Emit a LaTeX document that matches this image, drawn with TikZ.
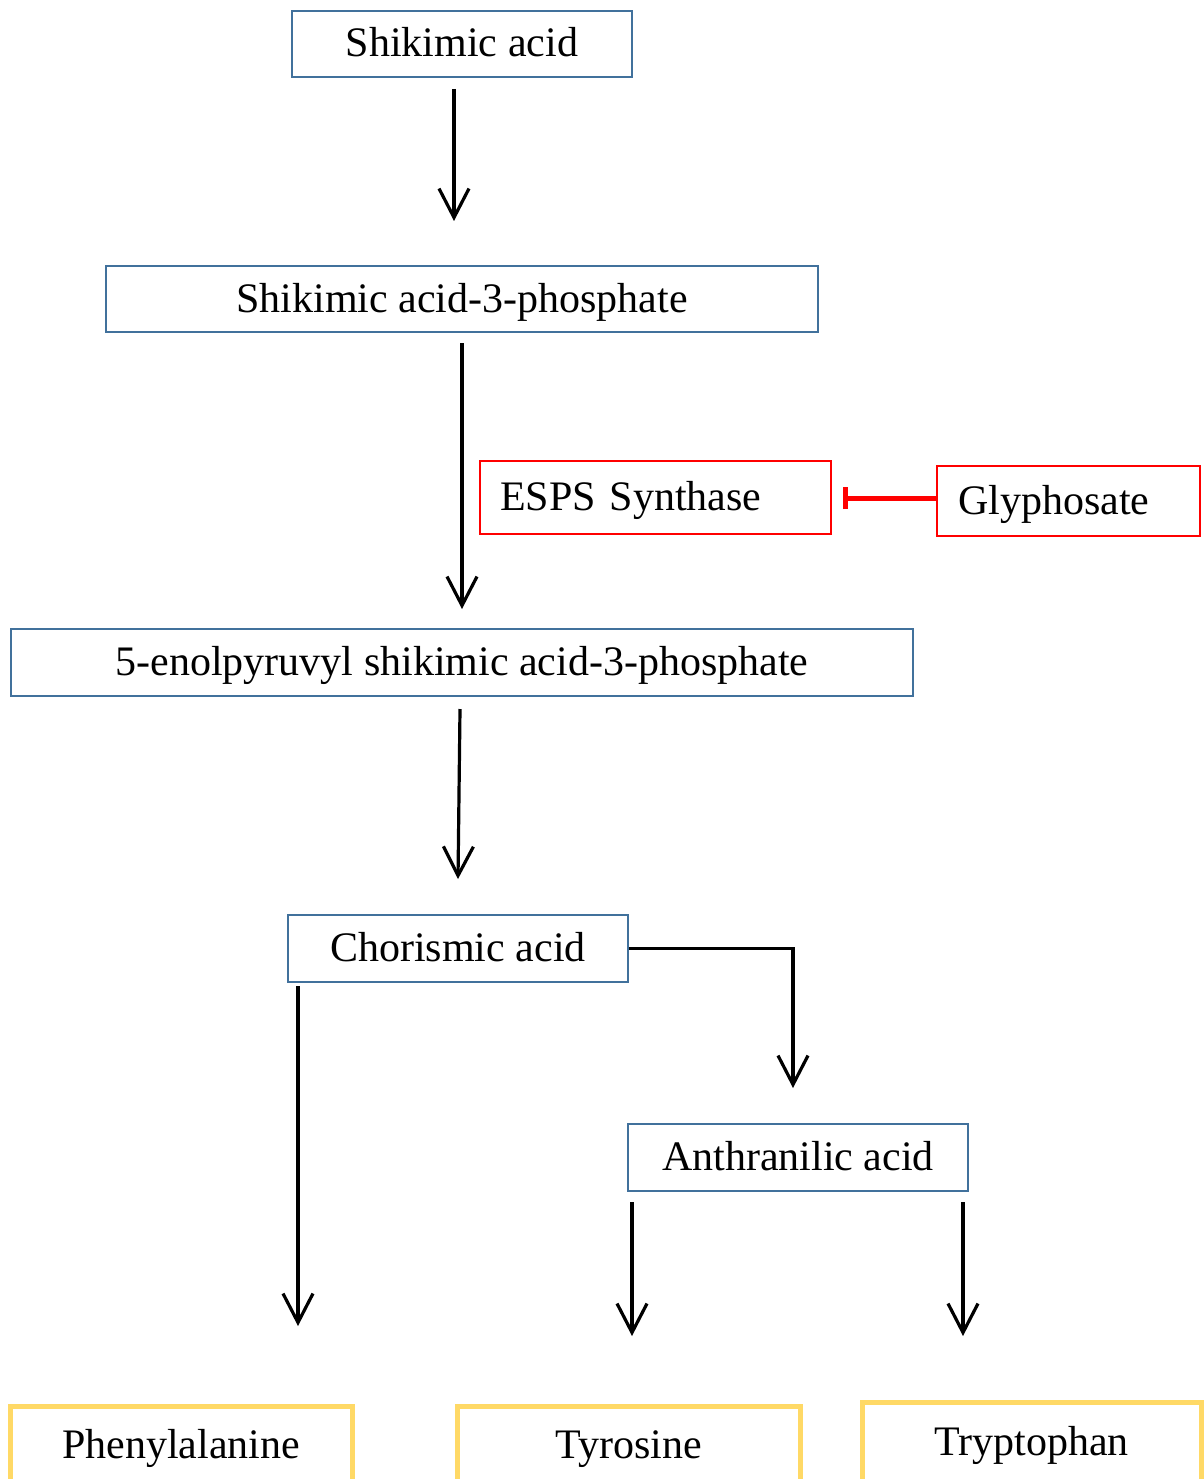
\documentclass[tikz,border=0pt]{standalone}
\usepackage{fontspec}
\setmainfont{Liberation Serif}
\usetikzlibrary{arrows.meta}
\definecolor{boxblue}{HTML}{41719C}
\definecolor{boxyellow}{HTML}{FFD966}
\tikzset{
  lbl/.style={font=\fontsize{42}{48}\selectfont, text height=30pt, text depth=4pt, inner sep=0pt},
  bluebox/.style={lbl, draw=boxblue, line width=1.6pt},
  redbox/.style={lbl, draw=red, line width=1.6pt, align=left},
  yelbox/.style={lbl, draw=boxyellow, line width=5pt},
  arr/.style={line width=3.2pt, -{Straight Barb[length=29pt,width=30pt]}},
  inh/.style={draw=red, line width=5pt, -{Bar[width=22pt]}}
}
\begin{document}
\begin{tikzpicture}[x=1pt,y=-1pt]
\useasboundingbox (0,0) rectangle (1203,1479);
% boxes
\node[bluebox, minimum width=340pt, minimum height=66pt] (sa) at (462,44) {Shikimic acid};
\node[bluebox, minimum width=712pt, minimum height=66pt] (s3p) at (462,299) {Shikimic acid-3-phosphate};
\node[redbox, text width=311pt, inner xsep=20pt, minimum height=73pt] (esps) at (655.5,497.5) {ESPS Synthase};
\node[redbox, text width=221pt, inner xsep=21pt, minimum height=70pt] (gly) at (1068.5,501) {Glyphosate};
\node[bluebox, minimum width=902pt, minimum height=67pt] (epsp) at (462,662.5) {5-enolpyruvyl shikimic acid-3-phosphate};
\node[bluebox, minimum width=340pt, minimum height=67pt] (chor) at (458,948.5) {Chorismic acid};
\node[bluebox, minimum width=340pt, minimum height=67pt] (anth) at (798,1157.5) {Anthranilic acid};
\node[yelbox, minimum width=342pt, minimum height=78pt] (phe) at (181,1445) {Phenylalanine};
\node[yelbox, minimum width=343pt, minimum height=78pt] (tyr) at (628.5,1445) {Tyrosine};
\node[yelbox, minimum width=339pt, minimum height=80pt] (trp) at (1031.5,1442) {Tryptophan};
% connector ends
\coordinate (a1s) at (454,89);   \coordinate (a1e) at (454,221);
\coordinate (a2s) at (462,343);  \coordinate (a2e) at (462,609);
\coordinate (a3s) at (460,709);  \coordinate (a3e) at (458,879);
\coordinate (a4s) at (298,986);  \coordinate (a4e) at (298,1326);
\coordinate (a5e) at (793,1088);
\coordinate (a6s) at (632,1202); \coordinate (a6e) at (632,1336);
\coordinate (a7s) at (963,1202); \coordinate (a7e) at (963,1336);
\coordinate (inhe) at (843,498);
% connectors
\draw[arr] (a1s) -- (a1e);
\draw[arr] (a2s) -- (a2e);
\draw[arr] (a3s) -- (a3e);
\draw[arr] (a4s) -- (a4e);
\draw[arr] (chor.east) -| (a5e);
\draw[arr] (a6s) -- (a6e);
\draw[arr] (a7s) -- (a7e);
\draw[inh] (gly.west |- inhe) -- (inhe);
\end{tikzpicture}
\end{document}
